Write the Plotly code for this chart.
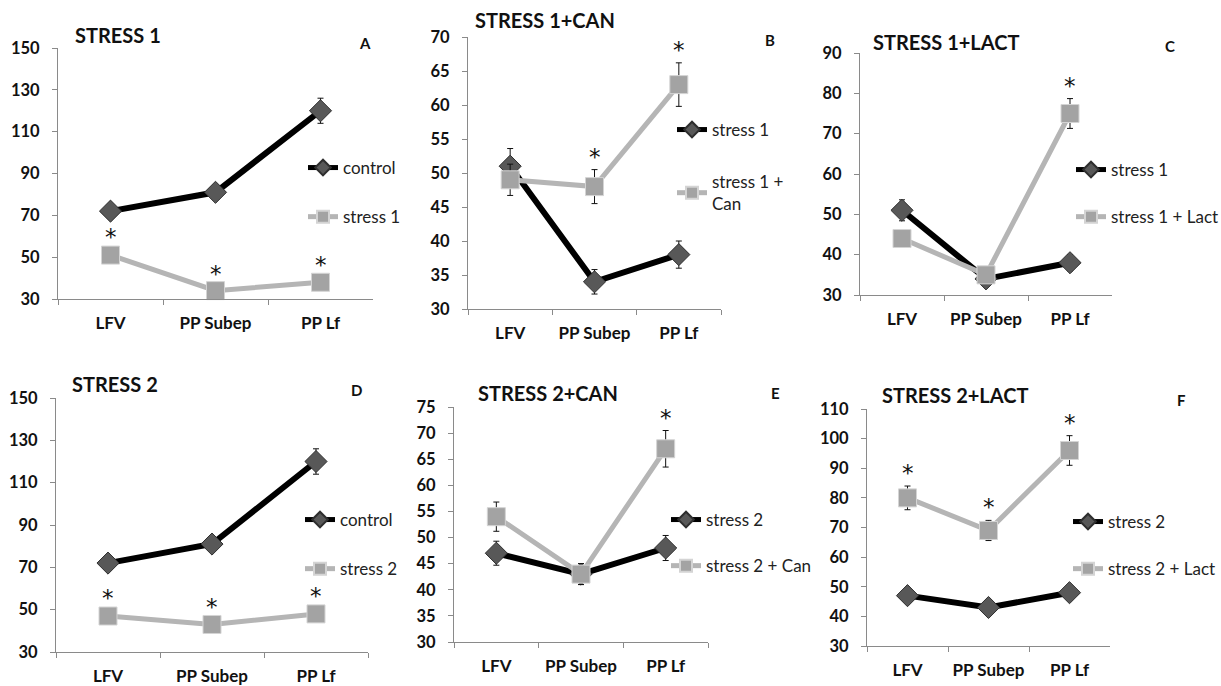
import plotly.graph_objects as go

# ---------------- data ----------------
categories = ["LFV", "PP Subep", "PP Lf"]

control_vals = [72, 81, 120]
control_err = [2.0, 3.4, 6.0]
stress1_vals = [51, 34, 38]
stress1_err = [2.6, 1.8, 2.0]
stress2_vals = [47, 43, 48]
stress2_err = [2.3, 2.0, 2.4]
can1_vals = [49, 48, 63]
can1_err = [2.3, 2.5, 3.2]
lact1_vals = [44, 35, 75]
lact1_err = [2.0, 1.0, 3.7]
can2_vals = [54, 43, 67]
can2_err = [2.8, 2.0, 3.5]
lact2_vals = [80, 69, 96]
lact2_err = [4.0, 3.4, 5.0]

# significance flags (asterisk on the grey series)
stars_A = [1, 1, 1]
stars_B = [0, 1, 1]
stars_C = [0, 0, 1]
stars_D = [1, 1, 1]
stars_E = [0, 0, 1]
stars_F = [1, 1, 1]

panel_titles = ["STRESS 1", "STRESS 1+CAN", "STRESS 1+LACT",
                "STRESS 2", "STRESS 2+CAN", "STRESS 2+LACT"]
panel_letters = ["A", "B", "C", "D", "E", "F"]

panels = [
    ("control", control_vals, control_err, "stress 1", stress1_vals, stress1_err, stars_A),
    ("stress 1", stress1_vals, stress1_err, "stress 1 +<br>Can", can1_vals, can1_err, stars_B),
    ("stress 1", stress1_vals, stress1_err, "stress 1 + Lact", lact1_vals, lact1_err, stars_C),
    ("control", control_vals, control_err, "stress 2", stress2_vals, stress2_err, stars_D),
    ("stress 2", stress2_vals, stress2_err, "stress 2 + Can", can2_vals, can2_err, stars_E),
    ("stress 2", stress2_vals, stress2_err, "stress 2 + Lact", lact2_vals, lact2_err, stars_F),
]
y_ranges = [(30, 150, 20), (30, 70, 5), (30, 90, 10), (30, 150, 20), (30, 75, 5), (30, 110, 10)]

# ---------------- layout geometry (pixels) ----------------
W, H = 1221, 686
boxes = [(58, 48, 373, 299), (468, 37, 721, 309), (860, 53, 1112, 295),
         (56, 398, 368, 652), (454, 407, 708, 642), (867, 409, 1110, 646)]
title_pos = [(73, 35), (473, 20), (871, 42), (70, 384), (476, 393), (880, 395)]
letter_pos = [(365, 43), (770, 40), (1170, 46), (357, 390), (775, 393), (1181, 400)]
# (text start x, first item centre y, gap)
legend_pos = [(343, 168, 24), (712, 130, 27), (1111, 170, 22),
              (340, 520, 24), (706, 520, 21), (1108, 522, 22)]


def fx(x):
    return x / W


def fy(y):
    return 1 - y / H


BLACK = "#000000"
GREY = "#b5b5b5"
FONT = "Lato"

fig = go.Figure()
annotations = []
layout = dict(
    width=W, height=H,
    margin=dict(l=0, r=0, t=0, b=0, autoexpand=False),
    paper_bgcolor="white", plot_bgcolor="white",
    font=dict(family=FONT, color="#111111"),
    template="none",
)

for i, (bname, bvals, berr, gname, gvals, gerr, stars) in enumerate(panels):
    n = "" if i == 0 else str(i + 1)
    xa, ya = "x" + n, "y" + n
    leg = "legend" + n
    fig.add_trace(go.Scatter(
        x=categories, y=bvals, name=bname, mode="lines+markers",
        xaxis=xa, yaxis=ya, legend=leg, legendgroup=f"b{i}",
        line=dict(color=BLACK, width=6),
        marker=dict(symbol="diamond", size=17, color="#585858",
                    line=dict(color="#2e2e2e", width=1)),
        error_y=dict(type="data", array=berr, color="#111111", thickness=1, width=3),
        cliponaxis=False,
    ))
    fig.add_trace(go.Scatter(
        x=categories, y=gvals, name=gname, mode="lines+markers",
        xaxis=xa, yaxis=ya, legend=leg, legendgroup=f"g{i}",
        line=dict(color=GREY, width=5),
        marker=dict(symbol="square", size=18, color="#a3a3a3",
                    line=dict(color="#d4d4d4", width=1)),
        error_y=dict(type="data", array=gerr, color="#111111", thickness=1, width=3),
        cliponaxis=False,
    ))

    x0, y0, x1, y1 = boxes[i]
    lo, hi, dt = y_ranges[i]
    layout["xaxis" + n] = dict(
        domain=[fx(x0), fx(x1)], anchor=ya, type="category",
        range=[-0.5, 2.5], tickson="boundaries", ticks="outside", ticklen=5,
        tickcolor="#8a8a8a", showline=True, linecolor="#8a8a8a", linewidth=1,
        showgrid=False, zeroline=False, ticklabelstandoff=9, automargin=False,
        tickangle=0,
        tickfont=dict(family=FONT, size=17, weight="bold", color="#111111"),
    )
    layout["yaxis" + n] = dict(
        domain=[fy(y1), fy(y0)], anchor=xa, range=[lo, hi], dtick=dt, tick0=lo,
        ticks="outside", ticklen=5, tickcolor="#8a8a8a", showline=True,
        linecolor="#8a8a8a", linewidth=1, showgrid=False, zeroline=False,
        ticklabelstandoff=9, automargin=False,
        tickfont=dict(family=FONT, size=16.5, weight="bold", color="#111111"),
    )
    lx, ly, gap = legend_pos[i]
    layout[leg] = dict(
        x=fx(lx - 40), y=fy(ly - 18), xanchor="left", yanchor="top",
        bgcolor="rgba(0,0,0,0)", itemwidth=30, tracegroupgap=gap,
        traceorder="grouped", borderwidth=0, itemsizing="constant",
        font=dict(family=FONT, size=17, color="#222222"),
        itemclick=False,
    )

    tx, ty = title_pos[i]
    annotations.append(dict(
        x=fx(tx), y=fy(ty), xref="paper", yref="paper", xanchor="left",
        yanchor="middle", showarrow=False, text=panel_titles[i],
        font=dict(family=FONT, size=20, weight="bold", color="#111111"),
    ))
    lx2, ly2 = letter_pos[i]
    annotations.append(dict(
        x=fx(lx2), y=fy(ly2), xref="paper", yref="paper", xanchor="center",
        yanchor="middle", showarrow=False, text=panel_letters[i],
        font=dict(family=FONT, size=15, weight="bold", color="#111111"),
    ))
    for k, s in enumerate(stars):
        if s:
            annotations.append(dict(
                x=categories[k], y=gvals[k] + gerr[k], xref=xa, yref=ya,
                xanchor="center", yanchor="bottom", yshift=-2, showarrow=False,
                text="*", font=dict(family="DejaVu Sans", size=23, color="#111111"),
            ))

layout["annotations"] = annotations
fig.update_layout(**layout)
fig.write_html(
    "out.html",
    config={"displayModeBar": False},
    post_script="document.body.style.margin='0';document.body.style.overflow='hidden';",
)
